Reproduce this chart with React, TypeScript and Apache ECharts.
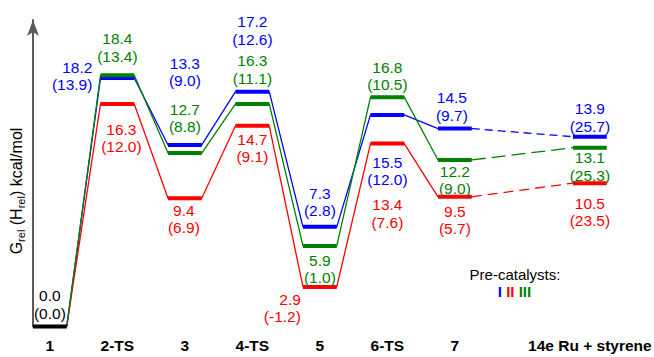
import React, { useEffect, useRef } from 'react';
import * as echarts from 'echarts';

// ---- data ----
const categories = ['1', '2-TS', '3', '4-TS', '5', '6-TS', '7', '14e Ru + styrene'];
const positions = [0, 1, 2, 3, 4, 5, 6, 8];
const startG = 0.0;
const startH = 0.0;
// values for species 2-TS .. 14e Ru + styrene
const blueG = [18.2, 13.3, 17.2, 7.3, 15.5, 14.5, 13.9];
const blueH = [13.9, 9.0, 12.6, 2.8, 12.0, 9.7, 25.7];
const redG = [16.3, 9.4, 14.7, 2.9, 13.4, 9.5, 10.5];
const redH = [12.0, 6.9, 9.1, -1.2, 7.6, 5.7, 23.5];
const greenG = [18.4, 12.7, 16.3, 5.9, 16.8, 12.2, 13.1];
const greenH = [13.4, 8.8, 11.1, 1.0, 10.5, 9.0, 25.3];
const legendTitle = 'Pre-catalysts:';
const catalystNames = ['I', 'II', 'III'];

// ---- layout / style (label offsets in px from bar centre) ----
type Lay = [number, number, string];
const blueLay: Lay[] = [[-25, -2, 'right'], [0, -73, 'center'], [0, -61, 'center'], [0, -25, 'center'], [0, 56, 'center'], [-3, -22, 'center'], [0, -19, 'center']];
const redLay: Lay[] = [[4, 34, 'center'], [-1, 21, 'center'], [0, 22, 'center'], [-19, 21, 'right'], [0, 70, 'center'], [0, 23, 'center'], [0, 29, 'center']];
const greenLay: Lay[] = [[0, -28, 'center'], [0, -35, 'center'], [0, -34.5, 'center'], [0, 23, 'center'], [0, -21, 'center'], [0, 20, 'center'], [0, 19, 'center']];
const startLay: Lay[] = [[0, -22, 'center']];

const BLUE = '#0000FF';
const RED = '#FF0000';
const GREEN = '#008000';
const FONT = '"Liberation Sans", Arial, Helvetica, sans-serif';
const HALF = 0.25;

function levelSeries(name: string, color: string, xs: number[], g: number[], h: number[], lay: Lay[]) {
  return {
    type: 'custom',
    name,
    z: 5,
    silent: true,
    clip: false,
    data: xs.map((x, i) => [x, g[i], h[i]]),
    renderItem: (params: any, api: any) => {
      const x = api.value(0);
      const gv = api.value(1);
      const hv = api.value(2);
      const l = api.coord([x - HALF, gv]);
      const r = api.coord([x + HALF, gv]);
      const c = api.coord([x, gv]);
      const [dx, dy, al] = lay[params.dataIndex];
      return {
        type: 'group',
        children: [
          { type: 'line', shape: { x1: l[0], y1: l[1], x2: r[0], y2: r[1] }, style: { stroke: color, lineWidth: 4 } },
          {
            type: 'text',
            x: c[0] + dx,
            y: c[1] + dy,
            style: {
              text: gv.toFixed(1) + '\n(' + hv.toFixed(1) + ')',
              fill: color,
              fontSize: 15.5,
              fontFamily: FONT,
              lineHeight: 17.5,
              align: al,
              verticalAlign: 'middle',
              textAlign: al,
              textVerticalAlign: 'middle',
            },
          },
        ],
      };
    },
  };
}

function connectorSeries(color: string, g: number[], dash: number[]) {
  const pts: number[][] = [[positions[0] + HALF, startG]];
  for (let i = 0; i < 6; i++) {
    pts.push([positions[i + 1] - HALF, g[i]]);
    pts.push([positions[i + 1] + HALF, g[i]]);
  }
  return [
    {
      type: 'line', z: 2, silent: true, symbol: 'none', data: pts,
      lineStyle: { color, width: 1.3 },
    },
    {
      type: 'line', z: 2, silent: true, symbol: 'none',
      data: [[positions[6] + HALF, g[5]], [positions[7] - HALF, g[6]]],
      lineStyle: { color, width: 1.3, type: dash },
    },
  ];
}

export default function App() {
  const ref = useRef<HTMLDivElement>(null);
  useEffect(() => {
    if (!ref.current) return;
    const chart = echarts.init(ref.current, undefined, { renderer: 'svg' });
    chart.setOption({
      animation: false,
      backgroundColor: '#fff',
      grid: { left: 33, right: 47.25, top: 20, bottom: 30.5, containLabel: false, outerBoundsMode: 'none' },
      xAxis: {
        type: 'value', min: -0.25, max: 8.25,
        axisLine: { show: false, onZero: false }, axisTick: { show: false }, splitLine: { show: false },
        axisLabel: {
          customValues: positions,
          formatter: (v: number) => { const k = positions.indexOf(v); return k >= 0 ? categories[k] : ''; },
          fontWeight: 'bold', fontSize: 15.5, color: '#000', fontFamily: FONT, margin: 11,
        },
      },
      yAxis: {
        type: 'value', min: 0, max: 22.45,
        axisLine: { show: true, onZero: false, symbol: ['none', 'arrow'], symbolSize: [9, 16], lineStyle: { color: '#5a5a5a', width: 2 } },
        axisTick: { show: false }, axisLabel: { show: false }, splitLine: { show: false },
      },
      graphic: [
        {
          type: 'text', x: 16, y: 191, rotation: Math.PI / 2,
          style: {
            text: '{m|G}{s|rel}{m| (H}{s|rel}{m|) kcal/mol}',
            rich: {
              m: { fontSize: 16, fontFamily: FONT, fill: '#000', lineHeight: 20, verticalAlign: 'middle' },
              s: { fontSize: 11, fontFamily: FONT, fill: '#000', lineHeight: 20, verticalAlign: 'bottom' },
            },
            align: 'center', verticalAlign: 'middle', textAlign: 'center', textVerticalAlign: 'middle',
          },
        },
        {
          type: 'text', x: 515, y: 274,
          style: { text: legendTitle, fontSize: 15, fontFamily: FONT, fill: '#000', align: 'center', verticalAlign: 'middle', textAlign: 'center', textVerticalAlign: 'middle' },
        },
        {
          type: 'text', x: 514.5, y: 291,
          style: {
            text: `{b|${catalystNames[0]}} {r|${catalystNames[1]}} {g|${catalystNames[2]}}`,
            rich: {
              b: { fontSize: 15, fontWeight: 'bold', fontFamily: FONT, fill: BLUE },
              r: { fontSize: 15, fontWeight: 'bold', fontFamily: FONT, fill: RED },
              g: { fontSize: 15, fontWeight: 'bold', fontFamily: FONT, fill: GREEN },
            },
            fontSize: 15, fontWeight: 'bold', fontFamily: FONT,
            align: 'center', verticalAlign: 'middle', textAlign: 'center', textVerticalAlign: 'middle',
          },
        },
      ],
      series: [
        ...connectorSeries(BLUE, blueG, [8, 5]),
        ...connectorSeries(RED, redG, [10, 6]),
        ...connectorSeries(GREEN, greenG, [14, 6]),
        levelSeries('blue', BLUE, positions.slice(1), blueG, blueH, blueLay),
        levelSeries('red', RED, positions.slice(1), redG, redH, redLay),
        levelSeries('green', GREEN, positions.slice(1), greenG, greenH, greenLay),
        levelSeries('start', '#000', [positions[0]], [startG], [startH], startLay),
      ],
    });
    return () => chart.dispose();
  }, []);
  return <div ref={ref} style={{ position: 'absolute', left: 0, top: 0, width: 654, height: 357 }} />;
}
